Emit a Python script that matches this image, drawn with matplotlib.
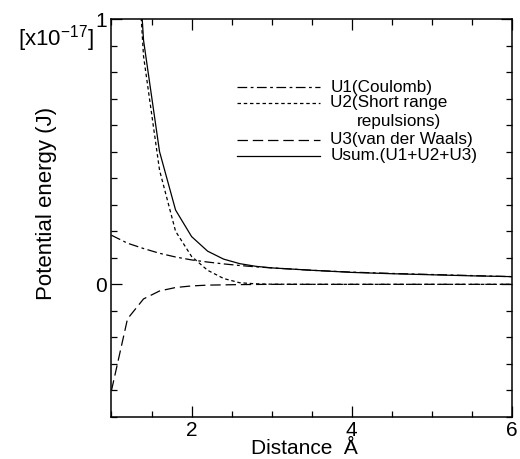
import matplotlib
matplotlib.use('Agg')
import matplotlib.pyplot as plt
import numpy as np

plt.rcParams['font.family'] = ['Liberation Sans', 'DejaVu Sans']
plt.rcParams['mathtext.fontset'] = 'custom'
plt.rcParams['mathtext.rm'] = 'Liberation Sans'
plt.rcParams['mathtext.it'] = 'Liberation Sans:italic'
plt.rcParams['lines.scale_dashes'] = False

# Data (energy in units of 1e-17 J, distance in Angstrom)
distance = [1.0, 1.2, 1.4, 1.6, 1.8, 2.0, 2.2, 2.4, 2.6, 2.8, 3.0, 3.5, 4.0, 4.5, 5.0, 5.5, 6.0]
u1_coulomb = [0.185, 0.155, 0.135, 0.117, 0.103, 0.092, 0.084, 0.077, 0.071, 0.066, 0.062,
              0.053, 0.046, 0.041, 0.037, 0.033, 0.029]
u2_repulsion = [2.9, 1.85, 0.86, 0.43, 0.20, 0.105, 0.053, 0.022, 0.006, 0.002, 0.0005,
                0.0, 0.0, 0.0, 0.0, 0.0, 0.0]
u3_vdw = [-0.40, -0.13, -0.055, -0.025, -0.012, -0.006, -0.003, -0.002, -0.001, -0.0005, 0.0,
          0.0, 0.0, 0.0, 0.0, 0.0, 0.0]
u_sum = [2.7, 1.9, 0.92, 0.50, 0.28, 0.18, 0.125, 0.095, 0.078, 0.068, 0.062,
         0.053, 0.045, 0.040, 0.036, 0.032, 0.029]

labels = ['U1(Coulomb)', 'U2(Short range', 'U3(van der Waals)', 'Usum.(U1+U2+U3)']

fig = plt.figure(figsize=(5.2, 4.59), dpi=100)
ax = fig.add_axes([0.2144, 0.0915, 0.7702, 0.8671])

lw = 0.9
styles = [dict(dashes=(7, 2.5, 2, 2.5)), dict(dashes=(2.5, 2)), dict(dashes=(7.5, 3.5)), dict(linestyle='-')]
series = [u1_coulomb, u2_repulsion, u3_vdw, u_sum]
for vals, st in zip(series, styles):
    ax.plot(distance, vals, color='black', lw=lw, **st)

ax.set_xlim(1, 6)
ax.set_ylim(-0.5, 1)
ax.set_xticks([2, 4, 6])
ax.set_xticks(np.arange(1, 6.01, 0.5), minor=True)
ax.set_yticks([0, 1])
ax.set_yticklabels(['0', '1'])
ax.set_yticks(np.arange(-0.5, 1.001, 0.1), minor=True)
ax.tick_params(which='both', direction='in', top=True, right=True, labelsize=15, pad=3)
ax.tick_params(which='major', length=8, width=0.9)
ax.tick_params(which='minor', length=4, width=0.9)
for sp in ax.spines.values():
    sp.set_linewidth(1.1)

# hand drawn legend, as in the figure
leg_y = [0.829, 0.789, 0.696, 0.657]
for y, st in zip(leg_y, styles):
    ax.plot([0.313, 0.521], [y, y], transform=ax.transAxes, color='black', lw=lw, **st)
for y, lab in zip(leg_y, labels):
    ax.text(0.546, y, lab, transform=ax.transAxes, fontsize=12.3, va='center', ha='left')
ax.text(0.613, 0.743, 'repulsions)', transform=ax.transAxes, fontsize=12.3, va='center', ha='left')

fig.text(304 / 520, 1 - 454 / 459, 'Distance  Å', fontsize=15, ha='center', va='baseline')
fig.text(47 / 520, 1 - 203 / 459, 'Potential energy (J)', rotation=90, fontsize=16,
         ha='center', va='center')
fig.text(94 / 520, 1 - 45 / 459, r'[x10$^{-17}$]', fontsize=16, ha='right', va='baseline')

plt.savefig('out.png', dpi=100)
plt.close(fig)
